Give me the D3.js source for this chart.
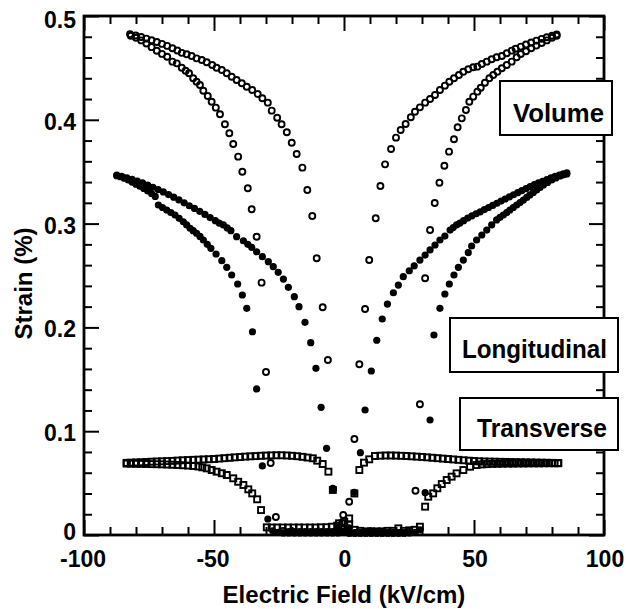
<!DOCTYPE html>
<html>
<head>
<meta charset="utf-8">
<script src="https://cdn.jsdelivr.net/npm/d3@7"></script>
<style>
  html, body { margin: 0; padding: 0; background: #fff; }
  svg { display: block; font-family: "Liberation Sans", Arial, Helvetica, sans-serif; }
</style>
</head>
<body>
<svg id="chart" width="626" height="609"></svg>
<script>
// Strain vs. electric field, measured on a rising and a falling field sweep.
// Each point is [field in kV/cm, strain in %].

const volumeRising = [
  [-82.3,0.4825],[-80.1,0.4812],[-78.0,0.4798],[-76.0,0.4782],[-74.0,0.4766],[-72.0,0.4750],
  [-70.0,0.4731],[-68.0,0.4712],[-66.0,0.4690],[-64.1,0.4668],[-62.4,0.4645],[-60.5,0.4631],
  [-58.6,0.4615],[-56.7,0.4592],[-54.7,0.4576],[-52.8,0.4554],[-50.7,0.4528],[-49.0,0.4502],
  [-47.0,0.4480],[-45.1,0.4448],[-43.2,0.4415],[-41.3,0.4383],[-39.3,0.4352],[-37.4,0.4319],
  [-35.3,0.4287],[-33.2,0.4249],[-31.4,0.4207],[-29.3,0.4165],[-27.8,0.4088],[-25.7,0.4020],
  [-24.0,0.3957],[-22.0,0.3880],[-20.1,0.3779],[-18.2,0.3670],[-16.0,0.3539],[-14.1,0.3324],
  [-12.2,0.3073],[-10.5,0.2666],[-8.2,0.2194],[-6.2,0.1686],[-4.2,0.0440],[-2.1,0.0060],
  [0.0,0.0030],[2.1,0.0020],[4.2,0.0020],[6.3,0.0020],[8.4,0.0020],[10.5,0.0020],
  [12.6,0.0020],[14.7,0.0020],[16.8,0.0020],[18.9,0.0020],[21.0,0.0020],[23.1,0.0020],
  [25.2,0.0030],[27.5,0.0427],[29.2,0.1259],[31.2,0.2473],[33.1,0.2938],[34.9,0.3198],
  [36.7,0.3394],[38.6,0.3558],[40.4,0.3693],[42.3,0.3812],[43.7,0.3928],[45.3,0.4014],
  [46.9,0.4094],[48.2,0.4174],[49.7,0.4223],[51.3,0.4271],[52.6,0.4309],[54.2,0.4357],
  [55.9,0.4400],[57.4,0.4432],[59.0,0.4463],[60.7,0.4496],[62.6,0.4528],[64.5,0.4560],
  [66.4,0.4602],[68.0,0.4634],[70.0,0.4660],[72.0,0.4690],[74.0,0.4715],[76.0,0.4740],
  [78.0,0.4765],[80.0,0.4790],[81.8,0.4810]
];

const volumeFalling = [
  [81.8,0.4822],[80.0,0.4810],[78.0,0.4796],[76.0,0.4780],[74.0,0.4763],[72.0,0.4745],
  [70.0,0.4725],[68.0,0.4705],[66.0,0.4685],[64.5,0.4666],[62.6,0.4641],[60.7,0.4615],
  [58.7,0.4602],[56.8,0.4583],[54.9,0.4560],[53.0,0.4538],[51.3,0.4512],[49.7,0.4506],
  [47.8,0.4487],[45.9,0.4463],[44.2,0.4432],[42.3,0.4400],[40.5,0.4367],[38.8,0.4329],
  [36.9,0.4287],[35.0,0.4239],[33.1,0.4200],[31.2,0.4165],[29.2,0.4120],[27.3,0.4078],
  [25.7,0.4024],[23.7,0.3960],[21.8,0.3902],[20.0,0.3828],[18.1,0.3719],[15.8,0.3571],
  [14.0,0.3362],[12.2,0.3051],[9.7,0.2649],[8.1,0.2177],[5.9,0.1645],[4.0,0.0925],
  [2.0,0.0320],[-0.3,0.0193],[-2.4,0.0040],[-4.5,0.0030],[-6.6,0.0030],[-8.7,0.0030],
  [-10.8,0.0030],[-12.9,0.0030],[-15.0,0.0030],[-17.1,0.0030],[-19.2,0.0030],[-21.3,0.0030],
  [-23.4,0.0040],[-26.2,0.0173],[-28.2,0.0694],[-30.0,0.1570],[-31.7,0.2431],[-33.6,0.2874],
  [-35.5,0.3138],[-37.0,0.3340],[-39.1,0.3500],[-40.7,0.3645],[-42.6,0.3767],[-44.1,0.3870],
  [-45.8,0.3957],[-47.7,0.4053],[-49.3,0.4117],[-50.9,0.4174],[-52.4,0.4229],[-54.1,0.4280],
  [-55.4,0.4335],[-56.7,0.4367],[-58.0,0.4400],[-59.6,0.4448],[-60.9,0.4473],[-62.4,0.4502],
  [-64.3,0.4544],[-66.0,0.4560],[-68.0,0.4608],[-70.0,0.4635],[-72.0,0.4665],[-74.0,0.4700],
  [-76.0,0.4735],[-78.0,0.4765],[-80.0,0.4790],[-82.0,0.4810]
];

const longitudinalRising = [
  [-87.4,0.3468],[-85.5,0.3455],[-83.5,0.3440],[-81.5,0.3426],[-79.5,0.3410],[-77.5,0.3392],
  [-75.5,0.3372],[-73.5,0.3350],[-71.5,0.3328],[-69.5,0.3305],[-67.5,0.3280],[-65.5,0.3255],
  [-63.5,0.3228],[-61.5,0.3200],[-59.5,0.3172],[-57.5,0.3146],[-55.5,0.3118],[-53.5,0.3088],
  [-51.5,0.3058],[-49.5,0.3028],[-48.0,0.3005],[-46.4,0.2987],[-44.9,0.2958],[-43.5,0.2932],
  [-41.3,0.2874],[-38.7,0.2835],[-37.0,0.2800],[-35.5,0.2771],[-33.6,0.2729],[-31.4,0.2681],
  [-29.1,0.2633],[-27.2,0.2585],[-25.3,0.2531],[-23.3,0.2466],[-21.4,0.2386],[-19.1,0.2296],
  [-17.3,0.2200],[-15.0,0.2049],[-12.8,0.1853],[-10.8,0.1606],[-8.8,0.1230],[-6.7,0.0835],
  [-4.3,0.0450],[-2.1,0.0080],[0.0,0.0035],[2.1,0.0020],[4.2,0.0020],[6.3,0.0020],
  [8.4,0.0020],[10.5,0.0020],[12.6,0.0020],[14.7,0.0020],[16.8,0.0020],[18.9,0.0020],
  [21.0,0.0020],[23.1,0.0020],[25.2,0.0020],[27.3,0.0025],[29.3,0.0050],[31.2,0.0408],
  [33.1,0.1108],[34.6,0.1927],[36.9,0.2184],[38.8,0.2322],[40.5,0.2418],[42.3,0.2505],
  [44.0,0.2579],[45.9,0.2649],[47.8,0.2720],[49.1,0.2784],[51.0,0.2842],[53.0,0.2890],
  [54.9,0.2938],[56.8,0.2987],[58.7,0.3035],[60.0,0.3060],[61.3,0.3083],[62.6,0.3107],
  [63.8,0.3131],[65.1,0.3155],[66.4,0.3179],[67.7,0.3203],[69.0,0.3227],[70.3,0.3252],
  [71.5,0.3276],[72.8,0.3300],[74.1,0.3324],[75.4,0.3348],[76.7,0.3372],[78.3,0.3396],
  [79.9,0.3420],[81.5,0.3440],[83.1,0.3459],[84.5,0.3470],[85.7,0.3478]
];

const longitudinalFalling = [
  [85.7,0.3490],[84.3,0.3480],[82.8,0.3468],[81.2,0.3455],[79.6,0.3440],[78.0,0.3425],
  [76.4,0.3408],[74.8,0.3392],[73.2,0.3375],[71.6,0.3356],[70.0,0.3337],[68.4,0.3318],
  [66.8,0.3298],[65.2,0.3278],[63.6,0.3257],[62.0,0.3237],[60.4,0.3217],[58.8,0.3196],
  [57.2,0.3175],[55.6,0.3155],[54.0,0.3135],[52.4,0.3113],[50.8,0.3095],[49.2,0.3075],
  [47.6,0.3053],[46.0,0.3028],[44.6,0.3005],[43.3,0.2987],[42.0,0.2962],[40.8,0.2938],
  [38.8,0.2880],[36.9,0.2842],[35.0,0.2794],[33.1,0.2746],[31.2,0.2697],[29.2,0.2649],
  [27.0,0.2592],[25.1,0.2546],[22.8,0.2489],[20.9,0.2408],[19.0,0.2334],[16.7,0.2225],
  [14.7,0.2081],[12.6,0.1876],[10.5,0.1580],[8.1,0.1204],[6.3,0.0793],[4.0,0.0411],
  [1.9,0.0070],[-0.2,0.0030],[-2.3,0.0020],[-4.4,0.0020],[-6.5,0.0020],[-8.6,0.0020],
  [-10.7,0.0020],[-12.8,0.0020],[-14.9,0.0020],[-17.0,0.0020],[-19.1,0.0020],[-21.2,0.0020],
  [-23.3,0.0020],[-25.4,0.0025],[-27.4,0.0040],[-29.3,0.0154],[-31.4,0.0665],[-33.6,0.1407],
  [-35.2,0.1958],[-37.4,0.2184],[-39.1,0.2312],[-40.9,0.2418],[-43.2,0.2505],[-45.1,0.2579],
  [-47.0,0.2643],[-49.2,0.2707],[-51.2,0.2762],[-52.6,0.2800],[-54.1,0.2842],[-55.4,0.2876],
  [-56.7,0.2907],[-58.0,0.2932],[-59.2,0.2955],[-60.5,0.2987],[-61.8,0.3018],[-63.4,0.3051],
  [-65.0,0.3083],[-66.6,0.3107],[-68.2,0.3131],[-69.8,0.3155],[-71.4,0.3179],[-72.6,0.3262],
  [-74.0,0.3290],[-75.5,0.3315],[-77.0,0.3338],[-78.5,0.3360],[-80.0,0.3380],[-81.5,0.3400],
  [-83.0,0.3420],[-84.5,0.3438],[-86.0,0.3452],[-87.4,0.3462]
];

const transverseRising = [
  [-83.6,0.0695],[-82.0,0.0697],[-80.0,0.0699],[-78.0,0.0701],[-76.0,0.0703],[-74.0,0.0706],
  [-72.0,0.0708],[-70.0,0.0710],[-68.0,0.0712],[-66.0,0.0714],[-64.0,0.0717],[-62.0,0.0720],
  [-60.0,0.0722],[-58.0,0.0724],[-56.0,0.0726],[-54.0,0.0728],[-52.0,0.0730],[-50.0,0.0732],
  [-48.0,0.0736],[-46.0,0.0740],[-44.0,0.0744],[-42.0,0.0748],[-40.0,0.0751],[-38.0,0.0755],
  [-36.0,0.0758],[-34.0,0.0760],[-32.0,0.0763],[-30.0,0.0765],[-28.0,0.0767],[-26.0,0.0768],
  [-24.0,0.0768],[-22.0,0.0766],[-20.0,0.0763],[-18.0,0.0759],[-16.0,0.0753],[-14.0,0.0746],
  [-12.0,0.0739],[-10.3,0.0716],[-8.2,0.0684],[-6.0,0.0610],[-4.3,0.0434],[-1.9,0.0113],
  [0.1,0.0128],[2.0,0.0100],[4.1,0.0050],[6.2,0.0040],[8.3,0.0035],[10.4,0.0035],
  [12.5,0.0035],[14.6,0.0035],[16.7,0.0040],[18.8,0.0040],[20.9,0.0064],[23.0,0.0040],
  [25.1,0.0045],[27.2,0.0050],[29.2,0.0080],[31.2,0.0273],[32.4,0.0369],[34.3,0.0401],
  [35.9,0.0450],[37.6,0.0491],[39.5,0.0530],[41.4,0.0562],[43.3,0.0594],[45.9,0.0626],
  [48.5,0.0658],[51.0,0.0674],[53.0,0.0680],[55.0,0.0683],[57.0,0.0685],[59.0,0.0686],
  [61.0,0.0687],[63.0,0.0688],[65.0,0.0688],[67.0,0.0689],[69.0,0.0689],[71.0,0.0690],
  [73.0,0.0690],[75.0,0.0690],[77.0,0.0691],[79.0,0.0691],[81.0,0.0691],[82.4,0.0691]
];

const transverseFalling = [
  [82.4,0.0694],[80.0,0.0695],[78.0,0.0696],[76.0,0.0697],[74.0,0.0698],[72.0,0.0699],
  [70.0,0.0700],[68.0,0.0701],[66.0,0.0702],[64.0,0.0703],[62.0,0.0704],[60.0,0.0705],
  [58.0,0.0706],[56.0,0.0707],[54.0,0.0708],[52.0,0.0710],[50.0,0.0713],[48.0,0.0716],
  [46.0,0.0720],[44.0,0.0724],[42.0,0.0728],[40.0,0.0732],[38.0,0.0736],[36.0,0.0740],
  [34.0,0.0744],[32.0,0.0748],[30.0,0.0752],[28.0,0.0755],[26.0,0.0758],[24.0,0.0761],
  [22.0,0.0763],[20.0,0.0765],[18.0,0.0766],[16.0,0.0766],[14.0,0.0764],[11.9,0.0761],
  [9.7,0.0729],[7.7,0.0697],[5.9,0.0626],[4.0,0.0400],[2.0,0.0160],[-0.5,0.0113],
  [-2.6,0.0090],[-4.7,0.0080],[-6.8,0.0075],[-8.9,0.0074],[-11.0,0.0072],[-13.1,0.0072],
  [-15.2,0.0072],[-17.3,0.0072],[-19.4,0.0072],[-21.5,0.0072],[-23.6,0.0072],[-25.7,0.0072],
  [-27.8,0.0072],[-29.7,0.0074],[-31.9,0.0240],[-33.4,0.0344],[-35.3,0.0401],[-36.8,0.0440],
  [-38.7,0.0482],[-40.7,0.0513],[-42.6,0.0546],[-45.1,0.0578],[-47.0,0.0595],[-49.0,0.0610],
  [-50.9,0.0626],[-52.8,0.0642],[-54.5,0.0652],[-56.0,0.0660],[-58.0,0.0665],[-60.0,0.0669],
  [-62.0,0.0672],[-64.0,0.0675],[-66.0,0.0677],[-68.0,0.0679],[-70.0,0.0681],[-72.0,0.0682],
  [-74.0,0.0683],[-76.0,0.0684],[-78.0,0.0685],[-80.0,0.0686],[-82.0,0.0687],[-83.6,0.0688]
];

// Axis ticks and labels
const xMajorTicks = [-100, -50, 0, 50, 100];
const xMinorTicks = [-90, -80, -70, -60, -40, -30, -20, -10, 10, 20, 30, 40, 60, 70, 80, 90];
const xTickLabels = ["-100", "-50", "0", "50", "100"];
const yMajorTicks = [0, 0.1, 0.2, 0.3, 0.4, 0.5];
const yMinorTicks = [0.02, 0.04, 0.06, 0.08, 0.12, 0.14, 0.16, 0.18, 0.22, 0.24, 0.26, 0.28,
                     0.32, 0.34, 0.36, 0.38, 0.42, 0.44, 0.46, 0.48];
const yTickLabels = ["0", "0.1", "0.2", "0.3", "0.4", "0.5"];
const xTitle = "Electric Field (kV/cm)";
const yTitle = "Strain (%)";
const seriesNames = ["Volume", "Longitudinal", "Transverse"];

const svg = d3.select("#chart");
const plotLeft = 84, plotRight = 604, plotTop = 16, plotBottom = 535;

const x = d3.scaleLinear().domain([-100, 100]).range([plotLeft, plotRight]);
const y = d3.scaleLinear().domain([0, 0.5]).range([plotBottom, plotTop]);

// ---- ticks (pointing into the plot on all four sides) ----
function ticks(axis, transform, size, values) {
  svg.append("g")
    .attr("transform", transform)
    .call(axis.tickValues(values).tickSize(size).tickFormat(""))
    .call(g => g.select(".domain").remove())
    .call(g => g.selectAll(".tick line").attr("stroke", "#000").attr("stroke-width", 2));
}
ticks(d3.axisBottom(x), `translate(0,${plotBottom})`, -15, xMajorTicks);
ticks(d3.axisBottom(x), `translate(0,${plotBottom})`, -8, xMinorTicks);
ticks(d3.axisTop(x), `translate(0,${plotTop})`, -15, xMajorTicks);
ticks(d3.axisTop(x), `translate(0,${plotTop})`, -8, xMinorTicks);
ticks(d3.axisLeft(y), `translate(${plotLeft},0)`, -15, yMajorTicks);
ticks(d3.axisLeft(y), `translate(${plotLeft},0)`, -8, yMinorTicks);
ticks(d3.axisRight(y), `translate(${plotRight},0)`, -15, yMajorTicks);
ticks(d3.axisRight(y), `translate(${plotRight},0)`, -8, yMinorTicks);

// ---- tick labels ----
svg.append("g").selectAll("text")
  .data(xMajorTicks)
  .join("text")
  .attr("x", d => x(d) + (d < 0 ? -1 : 1))
  .attr("y", plotBottom + 32)
  .attr("text-anchor", "middle")
  .attr("font-size", "23px")
  .attr("font-weight", "bold")
  .text((d, i) => xTickLabels[i]);

svg.append("g").selectAll("text")
  .data(yMajorTicks)
  .join("text")
  .attr("x", plotLeft - 8)
  .attr("y", (d, i) => y(d) + (i === 0 ? 5 : i === yMajorTicks.length - 1 ? 12 : 10))
  .attr("text-anchor", "end")
  .attr("font-size", "23px")
  .attr("font-weight", "bold")
  .text((d, i) => yTickLabels[i]);

// ---- axis titles ----
svg.append("text")
  .attr("x", (plotLeft + plotRight) / 2)
  .attr("y", 603)
  .attr("text-anchor", "middle")
  .attr("font-size", "24px")
  .attr("font-weight", "bold")
  .text(xTitle);

svg.append("text")
  .attr("transform", `translate(32,${(plotTop + plotBottom) / 2 + 8}) rotate(-90)`)
  .attr("text-anchor", "middle")
  .attr("font-size", "24px")
  .attr("font-weight", "bold")
  .text(yTitle);

// ---- data markers ----
const plot = svg.append("g");

// Transverse: open squares
const sq = 6;
plot.append("g").selectAll("rect")
  .data(transverseRising.concat(transverseFalling))
  .join("rect")
  .attr("x", d => x(d[0]) - sq / 2)
  .attr("y", d => y(d[1]) - sq / 2)
  .attr("width", sq)
  .attr("height", sq)
  .attr("fill", "none")
  .attr("stroke", "#000")
  .attr("stroke-width", 1.9);

// Volume: open circles
plot.append("g").selectAll("circle")
  .data(volumeRising.concat(volumeFalling))
  .join("circle")
  .attr("cx", d => x(d[0]))
  .attr("cy", d => y(d[1]))
  .attr("r", 3)
  .attr("fill", "none")
  .attr("stroke", "#000")
  .attr("stroke-width", 1.9);

// Longitudinal: filled circles
plot.append("g").selectAll("circle")
  .data(longitudinalRising.concat(longitudinalFalling))
  .join("circle")
  .attr("cx", d => x(d[0]))
  .attr("cy", d => y(d[1]))
  .attr("r", 3.6)
  .attr("fill", "#000");

// ---- frame ----
svg.append("rect")
  .attr("x", plotLeft).attr("y", plotTop)
  .attr("width", plotRight - plotLeft).attr("height", plotBottom - plotTop)
  .attr("fill", "none")
  .attr("stroke", "#000")
  .attr("stroke-width", 2.8);

// ---- labelled boxes naming each curve ----
const boxes = [
  { name: seriesNames[0], x: 500, y: 81,  w: 112, h: 54, tx: 513, ty: 122, tw: 91 },
  { name: seriesNames[1], x: 450, y: 318, w: 168, h: 54, tx: 462, ty: 358, tw: 145 },
  { name: seriesNames[2], x: 460, y: 398, w: 158, h: 52, tx: 477, ty: 437, tw: 130 }
];
const box = svg.append("g").selectAll("g").data(boxes).join("g");
box.append("rect")
  .attr("x", d => d.x).attr("y", d => d.y)
  .attr("width", d => d.w).attr("height", d => d.h)
  .attr("fill", "#fff")
  .attr("stroke", "#000")
  .attr("stroke-width", 2);
box.append("text")
  .attr("x", d => d.tx).attr("y", d => d.ty)
  .attr("font-size", "26px")
  .attr("font-weight", "bold")
  .attr("textLength", d => d.tw)
  .attr("lengthAdjust", "spacingAndGlyphs")
  .text(d => d.name);
</script>
</body>
</html>
